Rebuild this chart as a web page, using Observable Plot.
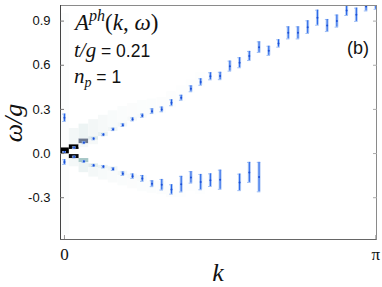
<!DOCTYPE html>
<html><head><meta charset="utf-8">
<script src="https://cdn.jsdelivr.net/npm/d3@7"></script>
<script src="https://cdn.jsdelivr.net/npm/@observablehq/plot@0.6"></script>
<style>body{margin:0;background:#fff}</style>
</head><body><div id="chart"></div>
<script>
// k grid: k = n * pi / 32
const nK = 32;
const upperIdx = [0,1,2,3,4,5,6,7,8,9,10,11,12,13,14,15,16,17,18,19,20,21,22,23,24,25,26,27,28,29,30,31,32];
const upperW = [0.01,0.039,0.073,0.10,0.128,0.164,0.193,0.232,0.257,0.288,0.30,0.345,0.379,0.44,0.486,0.525,0.527,0.594,0.617,0.663,0.723,0.698,0.748,0.82,0.82,0.859,0.923,0.87,0.90,0.972,0.943,0.999,1.01];
const upperErr = [0.004,0.006,0.006,0.007,0.007,0.008,0.009,0.01,0.011,0.016,0.016,0.02,0.017,0.02,0.022,0.024,0.025,0.034,0.034,0.031,0.036,0.031,0.025,0.041,0.041,0.043,0.051,0.041,0.041,0.034,0.045,0.03,0.03];
const lowerIdx = [0,1,2,3,4,5,6,7,8,9,10,11,12,13,14,15,16,18,19,20];
const lowerW = [-0.058,-0.024,-0.054,-0.081,-0.09,-0.106,-0.137,-0.154,-0.169,-0.205,-0.212,-0.244,-0.208,-0.162,-0.194,-0.181,-0.178,-0.196,-0.128,-0.16];
const lowerErr = [0.016,0.006,0.006,0.007,0.008,0.009,0.012,0.015,0.02,0.02,0.036,0.032,0.053,0.039,0.052,0.043,0.065,0.056,0.068,0.1];
const extraIdx = [0];
const extraW = [0.243];
const extraErr = [0.025];
// spectral weight strips: [column, omega_lo, omega_hi, weight]
const heatStrips = [
  [0,-0.55,0.95,0.008],[0,-0.002,0.038,1.0],
  [1,0.028,0.06,1.0],[1,0.06,0.17,0.035],[1,-0.035,-0.007,0.95],[1,-0.09,-0.035,0.03],
  [2,0.066,0.10,0.5],[2,0.10,0.20,0.05],[2,0.04,0.066,0.025],[2,-0.062,-0.034,0.25],[2,-0.13,-0.062,0.05],
  [3,0.09,0.115,0.09],[3,0.115,0.23,0.035],[3,0.06,0.09,0.025],[3,-0.095,-0.07,0.08],[3,-0.16,-0.095,0.03],
  [4,0.115,0.145,0.06],[4,0.145,0.26,0.025],[4,-0.105,-0.08,0.05],[4,-0.18,-0.105,0.022],
  [5,0.15,0.18,0.04],[5,0.18,0.29,0.02],[5,-0.12,-0.09,0.04],[5,-0.2,-0.12,0.018],
  [6,0.18,0.21,0.03],[6,0.21,0.32,0.015],[6,-0.15,-0.12,0.03],[6,-0.22,-0.15,0.015],
  [7,0.22,0.25,0.025],[7,0.25,0.34,0.012],[7,-0.17,-0.14,0.025],[7,-0.24,-0.17,0.012],
  [8,0.24,0.27,0.02],[8,0.27,0.36,0.01],[8,-0.19,-0.15,0.02],[8,-0.26,-0.19,0.01],
  [9,0.26,0.37,0.01],[9,-0.27,-0.19,0.01],
  [10,0.27,0.38,0.009],[10,-0.28,-0.19,0.009],
  [11,0.31,0.42,0.008],[11,-0.3,-0.22,0.008],
  [12,0.35,0.46,0.006],[12,-0.3,-0.2,0.006],
  [13,0.41,0.5,0.005],[14,0.45,0.55,0.005],[13,-0.26,-0.15,0.005],[14,-0.28,-0.17,0.005]
];
const yTicks = [-0.3,0.0,0.3,0.6,0.9];
const xTicks = [0, Math.PI];
const xTickLabels = ["0","π"];

const dk = Math.PI / nK;
const kOf = n => n * dk;
const mk = (idx, w, e) => idx.map((n,i) => ({k: kOf(n), w: w[i], lo: w[i]-e[i], hi: w[i]+e[i]}));
const pts = [...mk(upperIdx, upperW, upperErr), ...mk(lowerIdx, lowerW, lowerErr), ...mk(extraIdx, extraW, extraErr)];
const cells = heatStrips.map(([n,lo,hi,v]) => ({k1: kOf(n)-dk/2, k2: kOf(n)+dk/2, lo, hi, v}));

const xDom = [-0.04, Math.PI + 0.007];
const yDom = [-0.584, 1.006];
const capW = 0.018;
const serif = "Liberation Serif, DejaVu Serif, serif";
const sans = "Liberation Sans, Arial, sans-serif";

const svg = Plot.plot({
  width: 382, height: 287,
  marginLeft: 60, marginRight: 6, marginTop: 5, marginBottom: 48,
  x: {domain: xDom},
  y: {domain: yDom},
  color: {type: "linear", domain: [0, 0.25, 0.625, 1], range: ["#ffffff", "#a6c7c7", "#525273", "#000000"], clamp: true},
  style: {background: "#fff"},
  marks: [
    Plot.rect(cells, {x1: "k1", x2: "k2", y1: "lo", y2: "hi", fill: "v", clip: true}),
    Plot.ruleX(pts, {x: "k", y1: "lo", y2: "hi", stroke: "#8fb3f2", strokeWidth: 3, strokeOpacity: 0.7, clip: true}),
    Plot.ruleY(pts, {y: "lo", x1: d => d.k - capW, x2: d => d.k + capW, stroke: "#9dbdf4", strokeWidth: 1, clip: true}),
    Plot.ruleY(pts, {y: "hi", x1: d => d.k - capW, x2: d => d.k + capW, stroke: "#9dbdf4", strokeWidth: 1, clip: true}),
    Plot.ruleX(pts, {x: "k", y1: "lo", y2: "hi", stroke: "#2463e8", strokeWidth: 1, clip: true}),
    Plot.dot(pts, {x: "k", y: "w", r: 1, fill: "#1c4fd6", stroke: "none", clip: true}),
    Plot.frame({stroke: "#8a8a8a"}),
    Plot.ruleX([xDom[0]], {stroke: "#444"}),
    Plot.ruleY([yDom[0]], {stroke: "#666"}),
    Plot.axisY(yTicks, {anchor: "left", tickSize: -4, tickPadding: 14, tickFormat: d => d.toFixed(1), fontSize: 13, fontFamily: sans, fill: "#111", stroke: "#777", label: null}),
    Plot.axisY(yTicks, {anchor: "right", tickSize: -4, tickFormat: () => "", stroke: "#aaa", label: null}),
    Plot.axisX(xTicks, {anchor: "bottom", tickSize: -4, tickPadding: 12, tickFormat: (d,i) => xTickLabels[i], fontSize: 17, fontFamily: serif, fill: "#111", stroke: "#999", label: null})
  ]
});

const s = d3.select(svg);
// y label
s.append("text").attr("transform", "translate(22,123) rotate(-90)").attr("text-anchor", "middle")
  .attr("font-family", serif).attr("font-style", "italic").attr("font-size", 26).attr("fill", "#111").text("ω/g");
// x label
s.append("text").attr("x", 218).attr("y", 281).attr("text-anchor", "middle")
  .attr("font-family", serif).attr("font-style", "italic").attr("font-size", 26).attr("fill", "#111").text("k");
// A^{ph}(k, ω)
const t1 = s.append("text").attr("x", 75).attr("y", 30).attr("text-anchor", "start").attr("font-family", serif).attr("font-size", 23).attr("fill", "#111");
t1.append("tspan").attr("font-style", "italic").text("A");
t1.append("tspan").attr("font-style", "italic").attr("font-size", 16).attr("dy", -9).text("ph");
t1.append("tspan").attr("dy", 9).text("(");
t1.append("tspan").attr("font-style", "italic").text("k");
t1.append("tspan").text(", ");
t1.append("tspan").attr("font-style", "italic").text("ω");
t1.append("tspan").text(")");
// t/g = 0.21
const t2 = s.append("text").attr("x", 74).attr("y", 57).attr("text-anchor", "start").attr("font-size", 17.5).attr("fill", "#111");
t2.append("tspan").attr("font-family", serif).attr("font-style", "italic").attr("font-size", 21).text("t/g");
t2.append("tspan").attr("font-family", sans).text(" = 0.21");
// n_p = 1
const t3 = s.append("text").attr("x", 74).attr("y", 83).attr("text-anchor", "start").attr("font-size", 17.5).attr("fill", "#111");
t3.append("tspan").attr("font-family", serif).attr("font-style", "italic").attr("font-size", 21).text("n");
t3.append("tspan").attr("font-family", serif).attr("font-style", "italic").attr("font-size", 14).attr("dy", 4).text("p");
t3.append("tspan").attr("font-family", sans).attr("dy", -4).text(" = 1");
// (b)
s.append("text").attr("x", 347).attr("y", 54).attr("text-anchor", "start").attr("font-family", sans).attr("font-size", 18).attr("fill", "#111").text("(b)");

document.getElementById("chart").appendChild(svg);
</script>
</body></html>
